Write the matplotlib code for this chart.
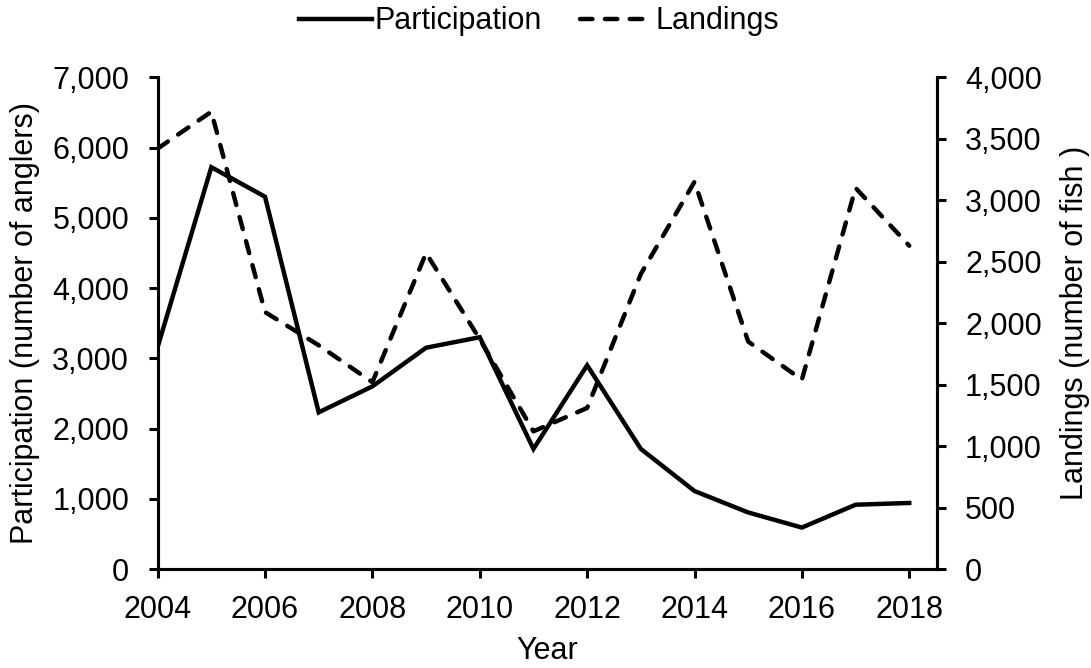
import matplotlib
matplotlib.use("Agg")
import matplotlib.pyplot as plt
from matplotlib.ticker import FuncFormatter

plt.rcParams['font.family'] = ['Liberation Sans', 'DejaVu Sans']

years = [2004, 2005, 2006, 2007, 2008, 2009, 2010, 2011,
         2012, 2013, 2014, 2015, 2016, 2017, 2018]
participation = [3160, 5720, 5300, 2230, 2600, 3150, 3300, 1710,
                 2900, 1710, 1110, 805, 590, 915, 940]
landings = [3420, 3720, 2090, 1820, 1520, 2570, 1870, 1120,
            1310, 2400, 3150, 1850, 1540, 3100, 2630]

fs = 22
fig = plt.figure(figsize=(10.91, 6.68), dpi=100)
ax = fig.add_axes([0.1445, 0.1482, 0.714, 0.7361])
ax2 = ax.twinx()

l1, = ax.plot(years, participation, color='black', lw=3.2, solid_joinstyle='miter',
              label='Participation')
l2, = ax2.plot(years, landings, color='black', lw=3.2, linestyle=(0, (2.8, 2.8)),
               dash_capstyle='round', label='Landings')

ax.set_xlim(2004, 2018.51)
ax.set_ylim(0, 7000)
ax2.set_ylim(0, 4000)
ax.set_xticks(range(2004, 2019, 2))
ax.set_yticks(range(0, 7001, 1000))
ax2.set_yticks(range(0, 4001, 500))

fmt = FuncFormatter(lambda v, p: f'{int(v):,}')
ax.yaxis.set_major_formatter(fmt)
ax2.yaxis.set_major_formatter(fmt)

for a in (ax, ax2):
    a.spines['top'].set_visible(False)
    for s in a.spines.values():
        s.set_linewidth(2.2)
    a.tick_params(width=2.2, length=6.5, labelsize=fs, direction='out')
ax.tick_params(axis='y', pad=14)
ax2.tick_params(axis='y', pad=14)
ax.tick_params(axis='x', pad=12)

fig.text(0.023, 0.516, 'Participation (number of anglers)', rotation=90,
         ha='center', va='center', fontsize=fs)
fig.text(0.985, 0.516, 'Landings (number of fish )', rotation=90,
         ha='center', va='center', fontsize=fs)
fig.text(0.502, 0.026, 'Year', ha='center', va='center', fontsize=fs)

fig.legend(handles=[l1, l2], loc='center', bbox_to_anchor=(0.494, 0.968),
           ncol=2, frameon=False, fontsize=fs, handlelength=2.4,
           handletextpad=0.08, columnspacing=1.25, borderaxespad=0)

fig.savefig('out.png', dpi=100)
